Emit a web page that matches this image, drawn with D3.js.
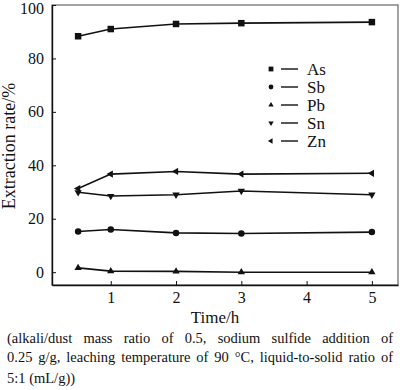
<!DOCTYPE html>
<html>
<head>
<meta charset="utf-8">
<script src="https://cdn.jsdelivr.net/npm/d3@7"></script>
<style>
  html, body { margin: 0; padding: 0; background: #fff; }
  svg { display: block; }
  svg text { font-family: "Liberation Serif", "Times New Roman", serif; }
</style>
</head>
<body>
<svg id="chart" width="400" height="390"></svg>
<script>
// data
const times = [0.5, 1, 2, 3, 5];
const asValues = [88.3, 91.0, 92.9, 93.2, 93.6];
const sbValues = [15.2, 16.0, 14.7, 14.5, 15.0];
const pbValues = [1.6, 0.4, 0.3, 0.0, 0.0];
const snValues = [29.9, 28.5, 29.0, 30.4, 29.0];
const znValues = [31.3, 36.7, 37.7, 36.7, 37.0];

const seriesNames = ["As", "Sb", "Pb", "Sn", "Zn"];
const seriesMarkers = ["square", "circle", "triangleUp", "triangleDown", "triangleLeft"];

const xTicks = [1, 2, 3, 4, 5];
const yTicks = [0, 20, 40, 60, 80, 100];

const captionLines = [
  "(alkali/dust mass ratio of 0.5, sodium sulfide addition of",
  "0.25 g/g, leaching temperature of 90 °C, liquid-to-solid ratio of",
  "5:1 (mL/g))"
];

const FONT = "Liberation Serif";

const series = [asValues, sbValues, pbValues, snValues, znValues].map((vals, i) => ({
  name: seriesNames[i],
  marker: seriesMarkers[i],
  points: vals.map((v, j) => ({ t: times[j], v }))
}));

const svg = d3.select("#chart");
const plot = { left: 52, right: 398, top: 5, bottom: 285 };

const x = d3.scaleLinear().domain([0.1, 5.4]).range([plot.left, plot.right]);
const y = d3.scaleLinear().domain([-4.8, 100]).range([plot.bottom, plot.top]);

// marker path by type and size
const markerPath = (type, s) => {
  if (type === "square") return d3.symbol(d3.symbolSquare, s * s)();
  if (type === "circle") return d3.symbol(d3.symbolCircle, Math.PI * (s / 2) * (s / 2))();
  return d3.symbol(d3.symbolTriangle, s * s * 0.55)();
};
const markerRotate = (type) =>
  type === "triangleDown" ? 180 : type === "triangleLeft" ? -90 : 0;

// frame
svg.append("rect")
  .attr("x", plot.left).attr("y", plot.top)
  .attr("width", plot.right - plot.left).attr("height", plot.bottom - plot.top)
  .attr("fill", "none").attr("stroke", "#666").attr("stroke-width", 1.2);

// axes, ticks inward
const xAxis = svg.append("g")
  .attr("transform", `translate(0,${plot.bottom})`)
  .call(d3.axisBottom(x).tickValues(xTicks).tickFormat(d3.format("d"))
    .tickSize(-4).tickPadding(7).tickSizeOuter(0));
const yAxis = svg.append("g")
  .attr("transform", `translate(${plot.left},0)`)
  .call(d3.axisLeft(y).tickValues(yTicks).tickFormat(d3.format("d"))
    .tickSize(-4).tickPadding(8).tickSizeOuter(0));

[xAxis, yAxis].forEach(ax => {
  ax.attr("font-family", FONT).attr("font-size", 16);
  ax.select(".domain").attr("stroke", "#111").attr("stroke-width", 1.4);
  ax.selectAll(".tick line").attr("stroke", "#111").attr("stroke-width", 1);
  ax.selectAll(".tick text").attr("fill", "#111");
});
// keep the top label inside the picture
yAxis.selectAll(".tick text").filter(d => d === 100).attr("dy", "0.5em");

// series lines and markers
const line = d3.line().x(d => x(d.t)).y(d => y(d.v));

series.forEach(s => {
  svg.append("path")
    .datum(s.points)
    .attr("d", line)
    .attr("fill", "none")
    .attr("stroke", "#111")
    .attr("stroke-width", 1.6);

  svg.selectAll(null)
    .data(s.points)
    .enter()
    .append("path")
    .attr("d", markerPath(s.marker, 6.5))
    .attr("transform", d => `translate(${x(d.t)},${y(d.v)}) rotate(${markerRotate(s.marker)})`)
    .attr("fill", "#111");
});

// legend
const legend = svg.append("g");
series.forEach((s, i) => {
  const ly = 69 + i * 18;
  legend.append("path")
    .attr("d", markerPath(s.marker, 4.8))
    .attr("transform", `translate(271,${ly}) rotate(${markerRotate(s.marker)})`)
    .attr("fill", "#111");
  legend.append("line")
    .attr("x1", 281).attr("x2", 298)
    .attr("y1", ly).attr("y2", ly)
    .attr("stroke", "#111").attr("stroke-width", 1.4);
  legend.append("text")
    .attr("x", 307).attr("y", ly)
    .attr("dy", "0.35em")
    .attr("font-family", FONT)
    .attr("font-size", 17)
    .attr("fill", "#111")
    .text(s.name);
});

// axis titles
svg.append("text")
  .attr("x", 215).attr("y", 323)
  .attr("text-anchor", "middle")
  .attr("font-family", FONT)
  .attr("font-size", 17)
  .attr("fill", "#111")
  .text("Time/h");

svg.append("text")
  .attr("transform", "translate(15,146) rotate(-90)")
  .attr("text-anchor", "middle")
  .attr("font-family", FONT)
  .attr("font-size", 18)
  .attr("fill", "#111")
  .text("Extraction rate/%");

// caption, first two lines justified word by word
const capLeft = 7, capRight = 393;
const capBaselines = [342.5, 362, 383];
captionLines.forEach((txt, i) => {
  const g = svg.append("g")
    .attr("font-family", FONT)
    .attr("font-size", 14.5)
    .attr("fill", "#111");
  if (i === captionLines.length - 1) {
    g.append("text").attr("x", capLeft).attr("y", capBaselines[i]).text(txt);
    return;
  }
  const words = txt.split(" ");
  const nodes = words.map(w => g.append("text").attr("y", capBaselines[i]).text(w));
  const widths = nodes.map(n => n.node().getComputedTextLength());
  const gap = (capRight - capLeft - d3.sum(widths)) / (words.length - 1);
  let cx = capLeft;
  nodes.forEach((n, j) => {
    n.attr("x", cx);
    cx += widths[j] + gap;
  });
});
</script>
</body>
</html>
